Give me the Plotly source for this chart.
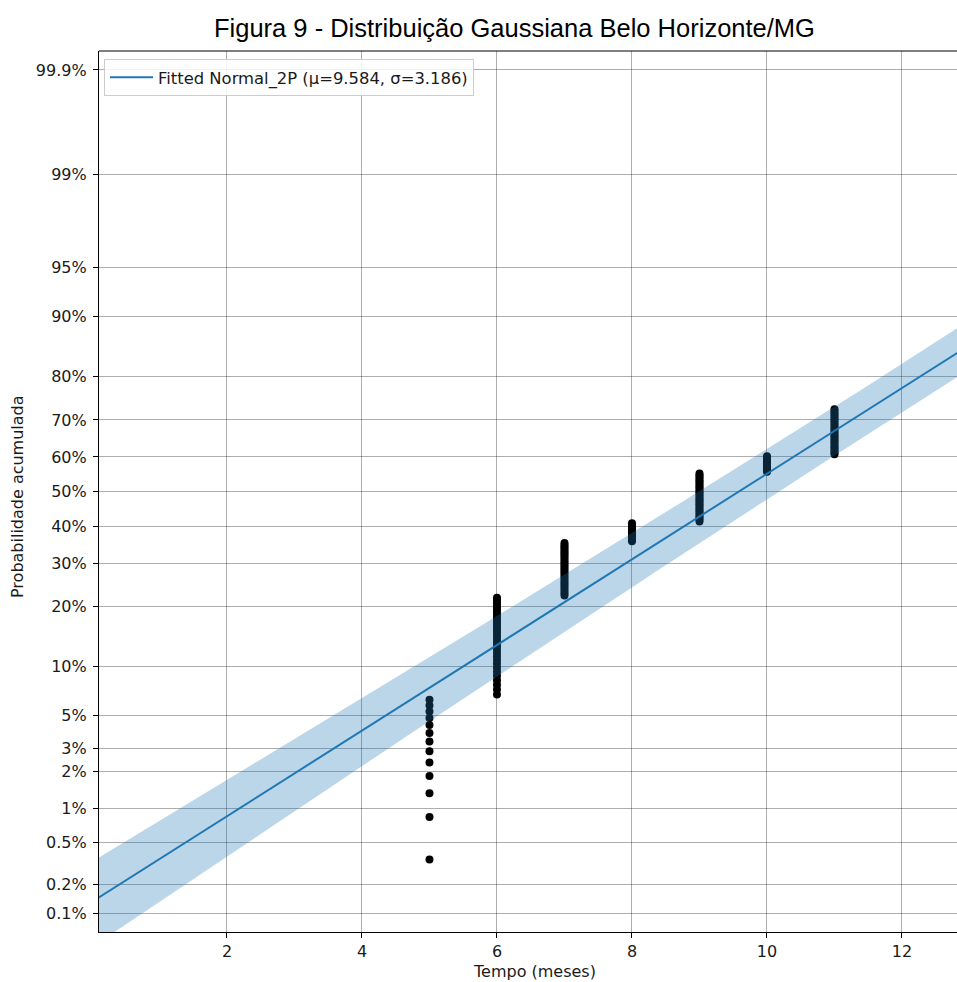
import numpy as np
import plotly.graph_objects as go
from statistics import NormalDist

# ---------------- data ----------------
title_text = "Figura 9 - Distribuição Gaussiana Belo Horizonte/MG"
x_label = "Tempo (meses)"
y_label = "Probabilidade acumulada"

mu = 9.584
sigma = 3.186
# estimated covariance terms of the fit (for the 95% confidence band)
var_mu = 0.0913
var_sigma = 0.01112
cov_mu_sigma = -0.01029
z_ci = 1.96

# plotting positions (cumulative %) of the failures, grouped by time (months)
t5 = [0.35, 0.85, 1.35, 1.85, 2.35, 2.84, 3.34, 3.84, 4.34, 4.84, 5.34, 5.84, 6.34]
t6 = [6.84, 7.34, 7.83, 8.33, 8.83, 9.33, 9.83, 10.33, 10.83, 11.33, 11.83, 12.33,
      12.82, 13.32, 13.82, 14.32, 14.82, 15.32, 15.82, 16.32, 16.82, 17.32, 17.81,
      18.31, 18.81, 19.31, 19.81, 20.31, 20.81, 21.31, 21.81]
t7 = [22.31, 22.80, 23.30, 23.80, 24.30, 24.80, 25.30, 25.80, 26.30, 26.80, 27.30,
      27.79, 28.29, 28.79, 29.29, 29.79, 30.29, 30.79, 31.29, 31.79, 32.29, 32.78,
      33.28, 33.78, 34.28, 34.78, 35.28]
t8 = [35.78, 36.28, 36.78, 37.28, 37.77, 38.27, 38.77, 39.27, 39.77, 40.27, 40.77]
t9 = [41.27, 41.77, 42.27, 42.76, 43.26, 43.76, 44.26, 44.76, 45.26, 45.76, 46.26,
      46.76, 47.26, 47.75, 48.25, 48.75, 49.25, 49.75, 50.25, 50.75, 51.25, 51.75,
      52.25, 52.74, 53.24, 53.74, 54.24, 54.74, 55.24]
t10 = [55.74, 56.24, 56.74, 57.24, 57.73, 58.23, 58.73, 59.23, 59.73, 60.23]
t11 = [60.73, 61.23, 61.73, 62.23, 62.72, 63.22, 63.72, 64.22, 64.72, 65.22, 65.72,
       66.22, 66.72, 67.22, 67.71, 68.21, 68.71, 69.21, 69.71, 70.21, 70.71, 71.21,
       71.71, 72.21, 72.70]
groups = {5: t5, 6: t6, 7: t7, 8: t8, 9: t9, 10: t10, 11: t11}

y_tick_probs = [0.001, 0.002, 0.005, 0.01, 0.02, 0.03, 0.05, 0.1, 0.2, 0.3, 0.4,
                0.5, 0.6, 0.7, 0.8, 0.9, 0.95, 0.99, 0.999]
y_tick_text = ["0.1%", "0.2%", "0.5%", "1%", "2%", "3%", "5%", "10%", "20%", "30%",
               "40%", "50%", "60%", "70%", "80%", "90%", "95%", "99%", "99.9%"]
x_ticks = [2, 4, 6, 8, 10, 12]
x_range = [0.104, 12.815]
y_range_prob = [0.000621, 0.999379]

# ---------------- helpers ----------------
nd = NormalDist()
probit = lambda p: nd.inv_cdf(p)

# ---------------- traces ----------------
px_, py_ = [], []
for t, vals in groups.items():
    for v in vals:
        px_.append(t)
        py_.append(probit(v / 100.0))

fig = go.Figure()
fig.add_trace(go.Scatter(
    x=px_, y=py_, mode="markers",
    marker=dict(color="black", size=8, line=dict(width=0)),
    showlegend=False, hoverinfo="skip"))

# confidence band (time bounds) in probit space
zz = np.linspace(-4.5, 4.5, 301)
var_t = var_mu + zz ** 2 * var_sigma + 2 * zz * cov_mu_sigma
t_mid = mu + zz * sigma
t_lo = t_mid - z_ci * np.sqrt(var_t)
t_hi = t_mid + z_ci * np.sqrt(var_t)
fig.add_trace(go.Scatter(
    x=np.concatenate([t_lo, t_hi[::-1]]),
    y=np.concatenate([zz, zz[::-1]]),
    mode="lines", fill="toself", fillcolor="rgba(31,119,180,0.3)",
    line=dict(width=0), showlegend=False, hoverinfo="skip"))

# fitted line
xl = np.array([x_range[0] - 1, x_range[1] + 1])
fig.add_trace(go.Scatter(
    x=xl, y=(xl - mu) / sigma, mode="lines",
    line=dict(color="#1f77b4", width=2),
    name=f"Fitted Normal_2P (μ={mu}, σ={sigma})"))

# ---------------- layout ----------------
W, H = 957, 982
L, R, T, B = 99, 0, 51, 50
pw, ph = W - L - R, H - T - B
tick_font = dict(family="DejaVu Sans", size=16, color="#1a1a1a")
grid_c = "rgba(0,0,0,0.32)"

fig.update_layout(
    width=W, height=H,
    margin=dict(l=L, r=R, t=T, b=B, pad=0),
    paper_bgcolor="white", plot_bgcolor="white",
    showlegend=True,
    legend=dict(x=5 / pw, y=1 - 8 / ph, xanchor="left", yanchor="top",
                bgcolor="rgba(255,255,255,0.85)", bordercolor="#cccccc", borderwidth=1,
                font=dict(family="DejaVu Sans", size=16.4, color="#1a1a1a"),
                itemwidth=43),
    xaxis=dict(range=x_range, tickvals=x_ticks, ticktext=[str(v) for v in x_ticks],
               showgrid=True, gridcolor=grid_c, gridwidth=1, zeroline=False,
               showline=True, linecolor="black", linewidth=1.2,
               ticks="outside", ticklen=5, tickcolor="black", tickwidth=1,
               tickfont=tick_font),
    yaxis=dict(range=[probit(y_range_prob[0]), probit(y_range_prob[1])],
               tickvals=[probit(p) for p in y_tick_probs], ticktext=y_tick_text,
               showgrid=True, gridcolor=grid_c, gridwidth=1, zeroline=False,
               showline=True, linecolor="black", linewidth=1.2,
               ticks="outside", ticklen=5, tickcolor="black", tickwidth=1,
               ticklabelstandoff=3,
               tickfont=tick_font),
    shapes=[dict(type="line", xref="paper", yref="paper", x0=0, x1=1, y0=1, y1=1,
                 line=dict(color="black", width=1.2))],
    annotations=[
        dict(text=title_text, xref="paper", yref="paper",
             x=(514 - L) / pw, y=1 + (51 - 28) / ph, xanchor="center", yanchor="middle",
             showarrow=False, font=dict(family="Liberation Sans", size=25.5, color="black")),
        dict(text=x_label, xref="paper", yref="paper",
             x=(534 - L) / pw, y=-(971 - (T + ph)) / ph, xanchor="center", yanchor="middle",
             showarrow=False, font=dict(family="DejaVu Sans", size=16, color="#1a1a1a")),
        dict(text=y_label, xref="paper", yref="paper", textangle=-90,
             x=-(L - 18) / pw, y=(932 - 497) / ph, xanchor="center", yanchor="middle",
             showarrow=False, font=dict(family="DejaVu Sans", size=16, color="#1a1a1a")),
    ],
)

fig.write_html("out.html")
